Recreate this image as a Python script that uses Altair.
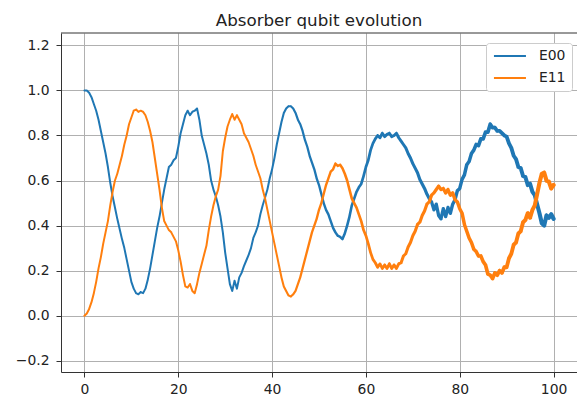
import altair as alt
import numpy as np
import pandas as pd

# Sampling times (0 to 100 in steps of 0.5)
times = np.arange(0, 100.5, 0.5)

# Population of |00> on the absorber qubit
e00 = [
    1.00, 1.00, 0.99, 0.97, 0.94, 0.91, 0.87, 0.82, 0.77, 0.72,
    0.66, 0.59, 0.53, 0.48, 0.43, 0.385, 0.34, 0.30, 0.25, 0.20,
    0.15, 0.12, 0.10, 0.095, 0.105, 0.10, 0.12, 0.16, 0.21, 0.27,
    0.33, 0.39, 0.44, 0.50, 0.56, 0.61, 0.66, 0.67, 0.69, 0.70,
    0.75, 0.81, 0.85, 0.89, 0.91, 0.89, 0.905, 0.91, 0.92, 0.87,
    0.80, 0.76, 0.72, 0.67, 0.60, 0.56, 0.53, 0.49, 0.44, 0.37,
    0.28, 0.21, 0.14, 0.11, 0.155, 0.12, 0.17, 0.19, 0.22, 0.245,
    0.27, 0.30, 0.345, 0.37, 0.40, 0.45, 0.49, 0.525, 0.56, 0.61,
    0.65, 0.70, 0.76, 0.81, 0.86, 0.90, 0.92, 0.93, 0.93, 0.92,
    0.90, 0.87, 0.85, 0.82, 0.78, 0.75, 0.71, 0.68, 0.65, 0.61,
    0.58, 0.54, 0.50, 0.47, 0.45, 0.42, 0.39, 0.37, 0.355, 0.35,
    0.34, 0.365, 0.40, 0.44, 0.49, 0.52, 0.55, 0.57, 0.585, 0.62,
    0.66, 0.69, 0.735, 0.765, 0.785, 0.80, 0.79, 0.81, 0.795, 0.805,
    0.81, 0.795, 0.80, 0.81, 0.79, 0.775, 0.76, 0.745, 0.72, 0.70,
    0.675, 0.655, 0.635, 0.605, 0.585, 0.565, 0.54, 0.52, 0.505, 0.47,
    0.495, 0.445, 0.43, 0.475, 0.44, 0.48, 0.455, 0.495, 0.515, 0.555,
    0.565, 0.605, 0.625, 0.67, 0.685, 0.72, 0.735, 0.76, 0.755, 0.785,
    0.785, 0.815, 0.815, 0.85, 0.835, 0.835, 0.82, 0.82, 0.81, 0.80,
    0.795, 0.765, 0.745, 0.71, 0.695, 0.66, 0.655, 0.62, 0.615, 0.58,
    0.585, 0.55, 0.535, 0.495, 0.455, 0.41, 0.40, 0.445, 0.435, 0.45,
    0.43,
]

# Population of |11> on the absorber qubit
e11 = [
    0.00, 0.01, 0.03, 0.06, 0.10, 0.15, 0.21, 0.26, 0.32, 0.37,
    0.42, 0.49, 0.55, 0.60, 0.63, 0.67, 0.71, 0.76, 0.80, 0.85,
    0.88, 0.91, 0.915, 0.905, 0.91, 0.905, 0.89, 0.86, 0.82, 0.77,
    0.70, 0.63, 0.56, 0.48, 0.42, 0.40, 0.38, 0.37, 0.35, 0.33,
    0.29, 0.24, 0.18, 0.13, 0.125, 0.14, 0.11, 0.10, 0.14, 0.19,
    0.23, 0.27, 0.31, 0.38, 0.44, 0.49, 0.53, 0.56, 0.62, 0.73,
    0.79, 0.84, 0.87, 0.895, 0.87, 0.89, 0.87, 0.85, 0.81, 0.79,
    0.77, 0.74, 0.71, 0.67, 0.64, 0.61, 0.56, 0.52, 0.47, 0.42,
    0.37, 0.32, 0.27, 0.22, 0.17, 0.13, 0.11, 0.09, 0.085, 0.095,
    0.11, 0.14, 0.17, 0.21, 0.25, 0.29, 0.33, 0.37, 0.40, 0.43,
    0.47, 0.50, 0.54, 0.58, 0.61, 0.64, 0.65, 0.675, 0.665, 0.67,
    0.655, 0.63, 0.60, 0.56, 0.52, 0.50, 0.48, 0.45, 0.42, 0.38,
    0.355, 0.32, 0.28, 0.25, 0.235, 0.215, 0.23, 0.21, 0.225, 0.21,
    0.23, 0.21, 0.225, 0.21, 0.23, 0.235, 0.265, 0.275, 0.305, 0.325,
    0.355, 0.375, 0.405, 0.415, 0.445, 0.465, 0.495, 0.505, 0.535, 0.545,
    0.56, 0.575, 0.56, 0.565, 0.545, 0.56, 0.535, 0.545, 0.515, 0.505,
    0.475, 0.455, 0.405, 0.375, 0.345, 0.325, 0.295, 0.285, 0.265, 0.265,
    0.24, 0.225, 0.185, 0.18, 0.165, 0.19, 0.18, 0.20, 0.19, 0.215,
    0.215, 0.255, 0.275, 0.315, 0.325, 0.365, 0.375, 0.415, 0.425, 0.455,
    0.435, 0.47, 0.49, 0.54, 0.59, 0.63, 0.635, 0.60, 0.595, 0.565,
    0.58,
]

series_names = ["E00", "E11"]
series_colors = ["#1f77b4", "#ff7f0e"]
x_ticks = [0, 20, 40, 60, 80, 100]
y_ticks = [-0.2, 0.0, 0.2, 0.4, 0.6, 0.8, 1.0, 1.2]

df = pd.concat([
    pd.DataFrame({"t": times, "value": e00, "series": "E00"}),
    pd.DataFrame({"t": times, "value": e11, "series": "E11"}),
], ignore_index=True)

FONT = "DejaVu Sans"
W, H = 516, 339

x_enc = alt.X(
    "t:Q",
    scale=alt.Scale(domain=[-5, 105], nice=False, zero=False),
    axis=alt.Axis(values=x_ticks, title=None, format="d", labelPadding=5),
)
y_enc = alt.Y(
    "value:Q",
    scale=alt.Scale(domain=[-0.25, 1.255], nice=False, zero=False),
    axis=alt.Axis(
        values=y_ticks,
        title=None,
        labelExpr="replace(format(datum.value, '.1f'), '-', '\u2212')",
        labelPadding=7,
    ),
)
# legend handle: a short horizontal line starting at the entry's left edge
color_enc = alt.Color(
    "series:N",
    scale=alt.Scale(domain=series_names, range=series_colors),
    legend=alt.Legend(
        title=None,
        orient="none",
        legendX=425,
        legendY=10,
        symbolType="M-1,0H5.4",
        symbolSize=100,
        symbolStrokeWidth=2,
        labelFont=FONT,
        labelFontSize=13.9,
        labelColor="#222",
        labelOffset=33,
        rowPadding=7,
        padding=6,
        fillColor="white",
        strokeColor="#cccccc",
        cornerRadius=3,
    ),
)

# the traces get visibly busier (thicker) as the simulation runs on
base = alt.Chart(df).transform_calculate(
    w="datum.t < 40 ? 2 : 2 + (datum.t - 40) / 60 * 2.2"
).encode(
    x=x_enc,
    y=y_enc,
    color=color_enc,
    size=alt.Size("w:Q", scale=None, legend=None),
    order=alt.Order("t:Q"),
)

lines = [
    base.transform_filter(alt.datum.series == name).mark_trail()
    for name in series_names
]

# top spine of the axes frame
top_spine = alt.Chart(pd.DataFrame({"k": [0]})).mark_rule(
    color="#333", strokeWidth=1
).encode(x=alt.value(0), x2=alt.value(W), y=alt.value(0))

chart = alt.layer(*lines, top_spine).properties(
    width=W,
    height=H,
    title=alt.TitleParams(
        "Absorber qubit evolution",
        font=FONT,
        fontSize=16.7,
        fontWeight="normal",
        color="#222",
        anchor="middle",
        offset=3,
    ),
    autosize=alt.AutoSizeParams(type="none"),
    padding={"left": 61, "top": 33, "right": 0, "bottom": 30},
).configure_view(
    stroke=None
).configure_axis(
    domainColor="#333",
    domainWidth=1,
    tickColor="#333",
    tickSize=5,
    tickWidth=1,
    labelFont=FONT,
    labelFontSize=13.9,
    labelColor="#222",
    grid=True,
    gridColor="#b0b0b0",
    gridWidth=1,
)

chart.save("out.html", embed_options={"renderer": "svg", "actions": False})
